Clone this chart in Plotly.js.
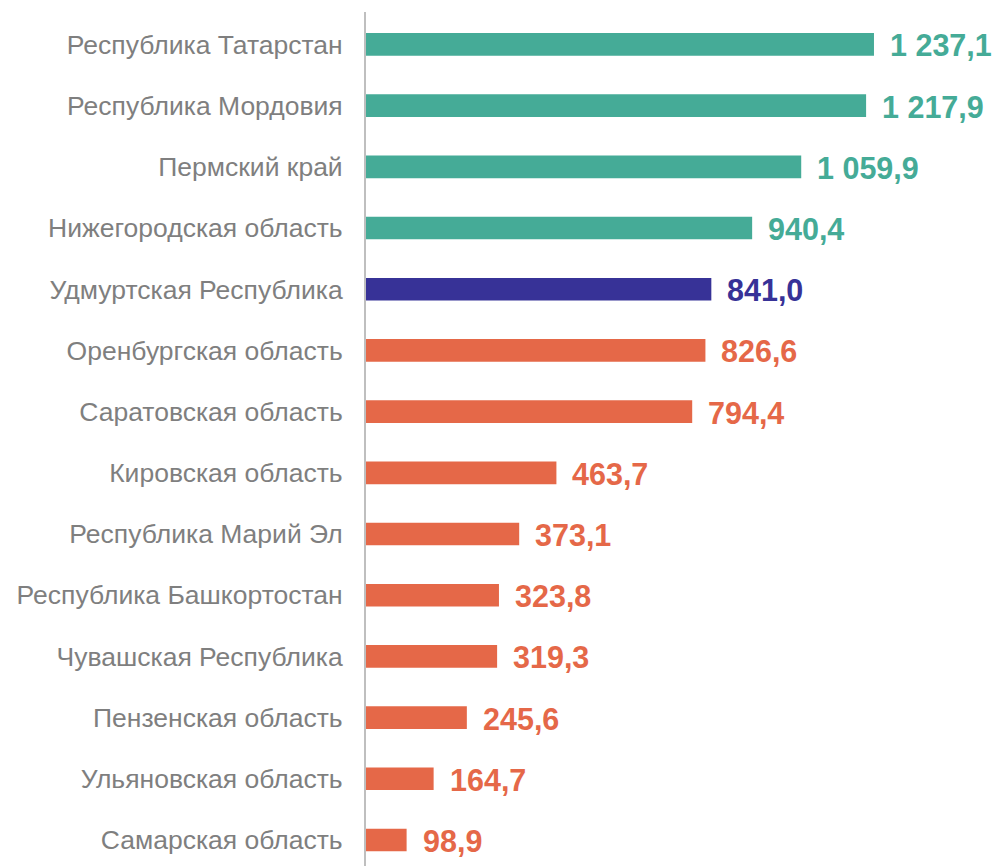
<!DOCTYPE html>
<html>
<head>
<meta charset="utf-8">
<script src="https://cdn.plot.ly/plotly-3.0.1.min.js"></script>
<style>
  body { margin: 0; background: #fff; }
  #chart { width: 1000px; height: 866px; }
</style>
</head>
<body>
<div id="chart"></div>
<script>
// regions, top to bottom
const regions = [
    'Республика Татарстан',
    'Республика Мордовия',
    'Пермский край',
    'Нижегородская область',
    'Удмуртская Республика',
    'Оренбургская область',
    'Саратовская область',
    'Кировская область',
    'Республика Марий Эл',
    'Республика Башкортостан',
    'Чувашская Республика',
    'Пензенская область',
    'Ульяновская область',
    'Самарская область'
];
const values = [1237.1, 1217.9, 1059.9, 940.4, 841.0, 826.6, 794.4, 463.7, 373.1, 323.8, 319.3, 245.6, 164.7, 98.9];
const highlight = 'Удмуртская Республика';

const TEAL = '#45ab97';
const NAVY = '#373297';
const ORANGE = '#e56848';
const FONT = "'Liberation Sans', Arial, sans-serif";

// format as "1 237,1"
function fmt(v) {
    let parts = v.toFixed(1).split('.');
    let whole = parts[0].replace(/\B(?=(\d{3})+(?!\d))/g, ' ');
    return whole + ',' + parts[1];
}

const hlValue = values[regions.indexOf(highlight)];
const colors = regions.map((r, i) => {
    if (r === highlight) return NAVY;
    return values[i] > hlValue ? TEAL : ORANGE;
});

const trace = {
    type: 'bar',
    orientation: 'h',
    x: values,
    y: regions,
    width: 0.37,
    marker: { color: colors },
    hoverinfo: 'none'
};

//value labels next to each bar
const annotations = regions.map((r, i) => ({
    x: values[i],
    y: r,
    xref: 'x',
    yref: 'y',
    text: '<b>' + fmt(values[i]) + '</b>',
    showarrow: false,
    xanchor: 'left',
    yanchor: 'middle',
    xshift: 14,
    yshift: -1,
    font: { family: FONT, size: 30.5, color: colors[i] }
}));

const layout = {
    width: 1000,
    height: 866,
    margin: { l: 366, r: 0, t: 12, b: 0 },
    paper_bgcolor: '#ffffff',
    plot_bgcolor: '#ffffff',
    showlegend: false,
    font: { family: FONT },
    xaxis: {
        range: [0, 1544],
        visible: false,
        fixedrange: true
    },
    yaxis: {
        type: 'category',
        range: [13.425, -0.53],
        showline: true,
        linecolor: '#bfbfbf',
        linewidth: 2,
        showgrid: false,
        zeroline: false,
        ticks: '',
        ticklabelstandoff: 16,
        tickfont: { family: FONT, size: 26.5, color: '#7f7f7f' },
        fixedrange: true
    },
    annotations: annotations
};

Plotly.newPlot('chart', [trace], layout, { displayModeBar: false, staticPlot: true });
</script>
</body>
</html>
